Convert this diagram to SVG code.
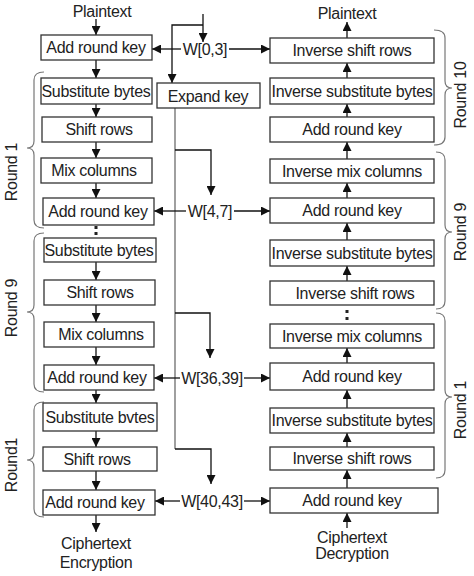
<svg xmlns="http://www.w3.org/2000/svg" width="474" height="576" viewBox="0 0 474 576">
<style>
text{font-family:"Liberation Sans",Arial,sans-serif;font-size:16px;letter-spacing:-0.3px;fill:#222;text-anchor:middle}
.box{fill:#fff;stroke:#333;stroke-width:1.3}
.ln{fill:none;stroke:#111;stroke-width:1.3}
.gray{fill:none;stroke:#888;stroke-width:1.6}
.brace{fill:none;stroke:#777;stroke-width:1.2}
.dot{fill:#222}
</style>
<defs>
<marker id="ah" viewBox="0 0 10 10" refX="10" refY="5" markerWidth="9" markerHeight="9" markerUnits="userSpaceOnUse" orient="auto"><path d="M0,0 L10,5 L0,10 z" fill="#111"/></marker>
</defs>
<rect width="474" height="576" fill="#fff"/>

<g id="connectors">
<line class="ln" x1="96" y1="19" x2="96" y2="35" marker-end="url(#ah)"/>
<line class="ln" x1="96" y1="60" x2="96" y2="78" marker-end="url(#ah)"/>
<line class="ln" x1="96" y1="104" x2="96" y2="117" marker-end="url(#ah)"/>
<line class="ln" x1="96" y1="142" x2="96" y2="158" marker-end="url(#ah)"/>
<line class="ln" x1="96" y1="183" x2="96" y2="198" marker-end="url(#ah)"/>
<rect class="dot" x="94.5" y="226" width="3" height="3"/>
<rect class="dot" x="94.5" y="232" width="3" height="3"/>
<line class="ln" x1="96" y1="262" x2="96" y2="280" marker-end="url(#ah)"/>
<line class="ln" x1="96" y1="305" x2="96" y2="322" marker-end="url(#ah)"/>
<line class="ln" x1="96" y1="347" x2="96" y2="365" marker-end="url(#ah)"/>
<line class="ln" x1="96" y1="390" x2="96" y2="403" marker-end="url(#ah)"/>
<line class="ln" x1="96" y1="431" x2="96" y2="447" marker-end="url(#ah)"/>
<line class="ln" x1="96" y1="471" x2="96" y2="490" marker-end="url(#ah)"/>
<line class="ln" x1="96" y1="515" x2="96" y2="532" marker-end="url(#ah)"/>
<line class="ln" x1="347" y1="528" x2="347" y2="513" marker-end="url(#ah)"/>
<line class="ln" x1="347" y1="488" x2="347" y2="470" marker-end="url(#ah)"/>
<line class="ln" x1="347" y1="447" x2="347" y2="433" marker-end="url(#ah)"/>
<line class="ln" x1="347" y1="408" x2="347" y2="390" marker-end="url(#ah)"/>
<line class="ln" x1="347" y1="363" x2="347" y2="348" marker-end="url(#ah)"/>
<rect class="dot" x="345.5" y="310" width="3" height="3"/>
<rect class="dot" x="345.5" y="317" width="3" height="3"/>
<line class="ln" x1="347" y1="281" x2="347" y2="266" marker-end="url(#ah)"/>
<line class="ln" x1="347" y1="240" x2="347" y2="223" marker-end="url(#ah)"/>
<line class="ln" x1="347" y1="198" x2="347" y2="183" marker-end="url(#ah)"/>
<line class="ln" x1="347" y1="159" x2="347" y2="142" marker-end="url(#ah)"/>
<line class="ln" x1="347" y1="117" x2="347" y2="104" marker-end="url(#ah)"/>
<line class="ln" x1="347" y1="78" x2="347" y2="63" marker-end="url(#ah)"/>
<line class="ln" x1="347" y1="38" x2="347" y2="22" marker-end="url(#ah)"/>
<line class="ln" x1="203" y1="14" x2="203" y2="42" marker-end="url(#ah)"/>
<polyline class="ln" points="203,25 172,25 172,83" marker-end="url(#ah)"/>
<line class="gray" x1="175" y1="108" x2="175" y2="449"/>
<polyline class="ln" points="175,150 211,150 211,195" marker-end="url(#ah)"/>
<polyline class="ln" points="175,313 210,313 210,358" marker-end="url(#ah)"/>
<polyline class="ln" points="175,449 211,449 211,484" marker-end="url(#ah)"/>
<line class="ln" x1="181" y1="49" x2="152" y2="49" marker-end="url(#ah)"/>
<line class="ln" x1="229" y1="49" x2="270" y2="49" marker-end="url(#ah)"/>
<line class="ln" x1="186" y1="211" x2="154" y2="211" marker-end="url(#ah)"/>
<line class="ln" x1="234" y1="211" x2="270" y2="211" marker-end="url(#ah)"/>
<line class="ln" x1="180" y1="378" x2="154" y2="378" marker-end="url(#ah)"/>
<line class="ln" x1="244" y1="378" x2="270" y2="378" marker-end="url(#ah)"/>
<line class="ln" x1="180" y1="501" x2="155" y2="501" marker-end="url(#ah)"/>
<line class="ln" x1="244" y1="501" x2="270" y2="501" marker-end="url(#ah)"/>
</g>

<g id="labels">
<text x="102" y="17">Plaintext</text>
<text x="347" y="19">Plaintext</text>
<text x="96" y="549">Ciphertext</text>
<text x="96" y="568">Encryption</text>
<text x="352" y="543">Ciphertext</text>
<text x="352" y="559">Decryption</text>
<text x="205" y="55">W[0,3]</text>
<text x="210" y="217">W[4,7]</text>
<text x="212" y="384">W[36,39]</text>
<text x="212" y="507">W[40,43]</text>
</g>

<g id="braces">
<path class="brace" d="M44,72 Q34,72 34,80 L34,141 Q34,148 27,148 Q34,148 34,155 L34,220 Q34,228 44,228"/>
<path class="brace" d="M44,233 Q34,233 34,241 L34,305 Q34,312 27,312 Q34,312 34,319 L34,384 Q34,392 44,392"/>
<path class="brace" d="M44,402 Q34,402 34,410 L34,453 Q34,460 27,460 Q34,460 34,467 L34,509 Q34,517 44,517"/>
<path class="brace" d="M434,30 Q445,30 445,38 L445,81 Q445,88 452,88 Q445,88 445,95 L445,137 Q445,145 434,145"/>
<path class="brace" d="M436,152 Q445,152 445,160 L445,225 Q445,232 452,232 Q445,232 445,239 L445,301 Q445,309 436,309"/>
<path class="brace" d="M436,313 Q445,313 445,321 L445,390 Q445,397 452,397 Q445,397 445,404 L445,470 Q445,478 436,478"/>
<text transform="translate(17,172) rotate(-90)">Round 1</text>
<text transform="translate(17,308) rotate(-90)">Round 9</text>
<text transform="translate(17,465) rotate(-90)">Round1</text>
<text transform="translate(466,95) rotate(-90)">Round 10</text>
<text transform="translate(466,232) rotate(-90)">Round 9</text>
<text transform="translate(466,410) rotate(-90)">Round 1</text>
</g>

<g id="expand-key"><rect class="box" x="157" y="83" width="103" height="25"/><text x="208" y="102">Expand key</text></g>

<g id="enc1"><rect class="box" x="41" y="35" width="111" height="25"/><text x="96" y="53">Add round key</text></g>
<g id="enc2"><rect class="box" x="41" y="78" width="111" height="26"/><text x="96" y="97">Substitute bytes</text></g>
<g id="enc3"><rect class="box" x="42" y="117" width="110" height="25"/><text x="99" y="135">Shift rows</text></g>
<g id="enc4"><rect class="box" x="41" y="158" width="111" height="25"/><text x="94" y="176">Mix columns</text></g>
<g id="enc5"><rect class="box" x="43" y="198" width="111" height="27"/><text x="98" y="217">Add round key</text></g>
<g id="enc6"><rect class="box" x="44" y="238" width="112" height="24"/><text x="99" y="256">Substitute bytes</text></g>
<g id="enc7"><rect class="box" x="44" y="280" width="111" height="25"/><text x="100" y="298">Shift rows</text></g>
<g id="enc8"><rect class="box" x="44" y="322" width="110" height="25"/><text x="101" y="340">Mix columns</text></g>
<g id="enc9"><rect class="box" x="44" y="365" width="110" height="25"/><text x="97" y="383">Add round key</text></g>
<g id="enc10"><rect class="box" x="43" y="403" width="114" height="28"/><text x="100" y="423">Substitute bvtes</text></g>
<g id="enc11"><rect class="box" x="43" y="447" width="114" height="24"/><text x="97" y="465">Shift rows</text></g>
<g id="enc12"><rect class="box" x="43" y="490" width="112" height="25"/><text x="95" y="508">Add round key</text></g>

<g id="dec1"><rect class="box" x="270" y="38" width="164" height="25"/><text x="352" y="56">Inverse shift rows</text></g>
<g id="dec2"><rect class="box" x="270" y="78" width="164" height="26"/><text x="352" y="97">Inverse substitute bytes</text></g>
<g id="dec3"><rect class="box" x="270" y="117" width="164" height="25"/><text x="352" y="135">Add round key</text></g>
<g id="dec4"><rect class="box" x="270" y="159" width="164" height="24"/><text x="352" y="177">Inverse mix columns</text></g>
<g id="dec5"><rect class="box" x="270" y="198" width="164" height="25"/><text x="352" y="216">Add round key</text></g>
<g id="dec6"><rect class="box" x="270" y="240" width="164" height="26"/><text x="352" y="259">Inverse substitute bytes</text></g>
<g id="dec7"><rect class="box" x="270" y="281" width="164" height="24"/><text x="355" y="299">Inverse shift rows</text></g>
<g id="dec8"><rect class="box" x="270" y="324" width="164" height="24"/><text x="352" y="342">Inverse mix columns</text></g>
<g id="dec9"><rect class="box" x="270" y="363" width="164" height="27"/><text x="352" y="382">Add round key</text></g>
<g id="dec10"><rect class="box" x="270" y="408" width="164" height="25"/><text x="352" y="426">Inverse substitute bytes</text></g>
<g id="dec11"><rect class="box" x="270" y="447" width="164" height="23"/><text x="352" y="464">Inverse shift rows</text></g>
<g id="dec12"><rect class="box" x="270" y="488" width="168" height="25"/><text x="352" y="506">Add round key</text></g>
</svg>
